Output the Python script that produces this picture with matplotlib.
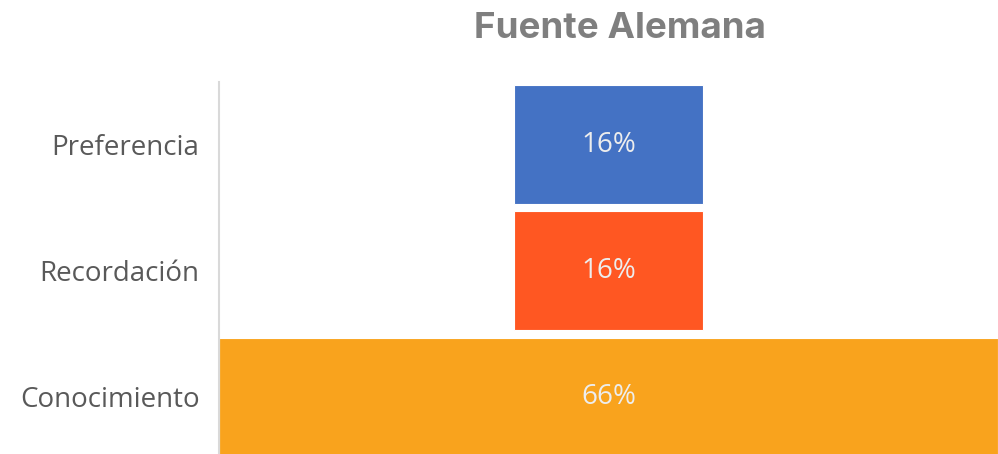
import matplotlib.pyplot as plt

# Funnel data (bottom to top)
categories = ['Conocimiento', 'Recordación', 'Preferencia']
values = [66, 16, 16]
labels = ['66%', '16%', '16%']
colors = ['#F9A31D', '#FF5722', '#4472C4']

fig = plt.figure(figsize=(9.98, 4.54), dpi=100)
ax = fig.add_axes([219 / 998, -6 / 454, 1 - 219 / 998, (460 - 81.5) / 454])

max_val = max(values)
lefts = [(max_val - v) / 2 for v in values]
ypos = range(len(categories))

ax.barh(ypos, values, left=lefts, height=0.94, color=colors,
        edgecolor='white', linewidth=0.8)

for y, l, v, txt in zip(ypos, lefts, values, labels):
    ax.text(l + v / 2, y, txt, ha='center', va='center',
            color='#EDEDED', fontsize=20, family='Open Sans')

ax.set_xlim(0, max_val)
ax.set_ylim(-0.5, len(categories) - 0.5)
ax.set_yticks(list(ypos))
ax.set_yticklabels(categories, fontsize=20, color='#595959', family='Open Sans')
ax.tick_params(axis='y', length=0, pad=14)
ax.set_xticks([])

for side in ['top', 'right', 'bottom']:
    ax.spines[side].set_visible(False)
ax.spines['left'].set_color('#D9D9D9')
ax.spines['left'].set_linewidth(1.5)

fig.text(620 / 998, 1 - 28 / 454, 'Fuente Alemana', ha='center', va='center',
         fontsize=26.5, fontweight='bold', color='#7F7F7F', family='Inter')

fig.savefig('out.png', dpi=100)
